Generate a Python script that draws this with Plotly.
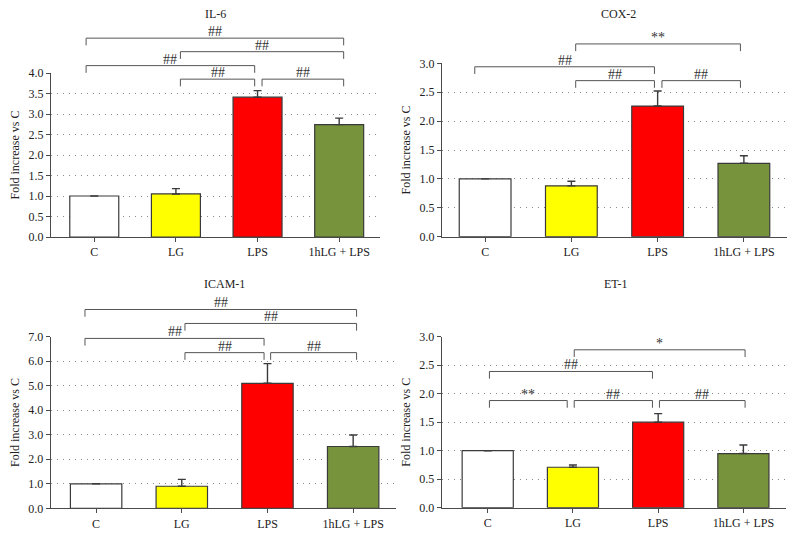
import plotly.graph_objects as go

W, H = 795, 537

categories = ["C", "LG", "LPS", "1hLG + LPS"]
bar_colors = ["#FFFFFF", "#FFFF00", "#FF0000", "#77933C"]

il6_vals = [1.00, 1.05, 3.41, 2.74]
il6_err = [0.0, 0.13, 0.16, 0.16]
cox2_vals = [1.00, 0.88, 2.26, 1.27]
cox2_err = [0.0, 0.08, 0.26, 0.13]
icam1_vals = [1.00, 0.90, 5.10, 2.52]
icam1_err = [0.0, 0.28, 0.80, 0.47]
et1_vals = [1.00, 0.71, 1.50, 0.95]
et1_err = [0.0, 0.04, 0.15, 0.15]

il6_ticks = [0.0, 0.5, 1.0, 1.5, 2.0, 2.5, 3.0, 3.5, 4.0]
cox2_ticks = [0.0, 0.5, 1.0, 1.5, 2.0, 2.5, 3.0]
icam1_ticks = [0.0, 1.0, 2.0, 3.0, 4.0, 5.0, 6.0, 7.0]
et1_ticks = [0.0, 0.5, 1.0, 1.5, 2.0, 2.5, 3.0]

# significance brackets: (from group, to group, level, label)
il6_sig = [(0, 3, 4.85, "##"), (1, 3, 4.52, "##"), (0, 2, 4.18, "##"),
           (1, 2, 3.85, "##"), (2, 3, 3.85, "##")]
cox2_sig = [(1, 3, 3.335, "**"), (0, 2, 2.94, "##"), (1, 2, 2.70, "##"),
            (2, 3, 2.70, "##")]
icam1_sig = [(0, 3, 8.11, "##"), (1, 3, 7.54, "##"), (0, 2, 6.93, "##"),
             (1, 2, 6.35, "##"), (2, 3, 6.35, "##")]
et1_sig = [(1, 3, 2.77, "*"), (0, 2, 2.39, "##"), (0, 1, 1.88, "**"),
           (1, 2, 1.88, "##"), (2, 3, 1.88, "##")]

FONT = "Liberation Serif"
AX = "#4a4a4a"

panels = [
    dict(title="IL-6", vals=il6_vals, err=il6_err, ticks=il6_ticks, fmt=".1f", sig=il6_sig,
         px=(51, 380), py=(73, 237), xr=(-0.53, 3.5), tx=215,
         lo=0.055, ro=-0.035, c_lo=-0.10, end_ro=0.055),
    dict(title="COX-2", vals=cox2_vals, err=cox2_err, ticks=cox2_ticks, fmt=".1f", sig=cox2_sig,
         px=(442, 787), py=(63.3, 236.7), xr=(-0.5, 3.5), tx=618,
         lo=0.05, ro=-0.037, c_lo=-0.12, end_ro=-0.04),
    dict(title="ICAM-1", vals=icam1_vals, err=icam1_err, ticks=icam1_ticks, fmt=".1f", sig=icam1_sig,
         px=(50.7, 396), py=(336.7, 508.3), xr=(-0.53, 3.5), tx=224,
         lo=0.037, ro=-0.04, c_lo=-0.13, end_ro=0.04),
    dict(title="ET-1", vals=et1_vals, err=et1_err, ticks=et1_ticks, fmt=".1f", sig=et1_sig,
         px=(441.7, 786), py=(336.7, 507.7), xr=(-0.54, 3.5), tx=616,
         lo=0.015, ro=-0.067, c_lo=0.02, end_ro=0.02),
]

fig = go.Figure()
shapes = []
annotations = []
layout = {}

for n, p in enumerate(panels, start=1):
    sfx = "" if n == 1 else str(n)
    xa, ya = "x" + sfx, "y" + sfx
    ymax = p["ticks"][-1]
    fig.add_trace(go.Bar(
        x=categories, y=p["vals"], width=0.6,
        marker=dict(color=bar_colors, line=dict(color="#3a3a3a", width=1.2)),
        error_y=dict(type="data", array=p["err"], arrayminus=[0] * 4, symmetric=False,
                     color="#3a3a3a", thickness=1.4, width=4),
        xaxis=xa, yaxis=ya, showlegend=False, hoverinfo="skip"))

    xd = [p["px"][0] / W, p["px"][1] / W]
    yd = [1 - p["py"][1] / H, 1 - p["py"][0] / H]
    layout["xaxis" + sfx] = dict(
        domain=xd, anchor=ya, type="category", range=list(p["xr"]), automargin=False,
        showline=True, linecolor=AX, linewidth=1, ticks="outside", ticklen=4,
        tickcolor=AX, showgrid=False, tickfont=dict(family=FONT, size=12, color="#222"),
        fixedrange=True)
    layout["yaxis" + sfx] = dict(
        domain=yd, anchor=xa, range=[0, ymax], tickvals=p["ticks"], automargin=False,
        ticktext=[format(t, p["fmt"]) for t in p["ticks"]],
        showline=True, linecolor=AX, linewidth=1, ticks="outside", ticklen=4,
        tickcolor=AX, showgrid=True, gridcolor="#8a8a8a", griddash="1px,5px", gridwidth=1,
        zeroline=False, tickfont=dict(family=FONT, size=12, color="#222"),
        title=dict(text="Fold increase vs C", font=dict(family=FONT, size=12, color="#222"),
                   standoff=6),
        fixedrange=True)

    # title
    annotations.append(dict(text=p["title"], x=p["tx"] / W, y=1 - 13.5 / H - (0 if n <= 2 else 270.5 / H),
                            xref="paper", yref="paper", showarrow=False,
                            font=dict(family=FONT, size=12, color="#222"),
                            xanchor="center", yanchor="middle"))

    x0, x1 = p["xr"]
    plot_h = p["py"][1] - p["py"][0]
    leg = 7.2 / plot_h * ymax

    def fx(v):
        return (v - x0) / (x1 - x0)

    def fy(v):
        return v / ymax

    for (i, j, lvl, lab) in p["sig"]:
        xl = i + (p["c_lo"] if i == 0 else p["lo"])
        xr_ = j + (p["end_ro"] if j == 3 else p["ro"])
        path = "M {a},{b} L {a},{c} L {d},{c} L {d},{b}".format(
            a=fx(xl), b=fy(lvl - leg), c=fy(lvl), d=fx(xr_))
        shapes.append(dict(type="path", path=path, xref=xa + " domain", yref=ya + " domain",
                           line=dict(color="#555555", width=1)))
        annotations.append(dict(text=lab, x=fx((xl + xr_) / 2), y=fy(lvl),
                                xref=xa + " domain", yref=ya + " domain", showarrow=False,
                                xanchor="center", yanchor="bottom", yshift=-3,
                                font=dict(family=FONT, size=14, color="#333")))

fig.update_layout(
    width=W, height=H, margin=dict(l=0, r=0, t=0, b=0, autoexpand=False),
    paper_bgcolor="white", plot_bgcolor="white",
    shapes=shapes, annotations=annotations, bargap=0.4, **layout)

fig.write_html("out.html", config={"displayModeBar": False},
               post_script="document.body.style.margin='0';document.body.style.overflow='hidden';")
